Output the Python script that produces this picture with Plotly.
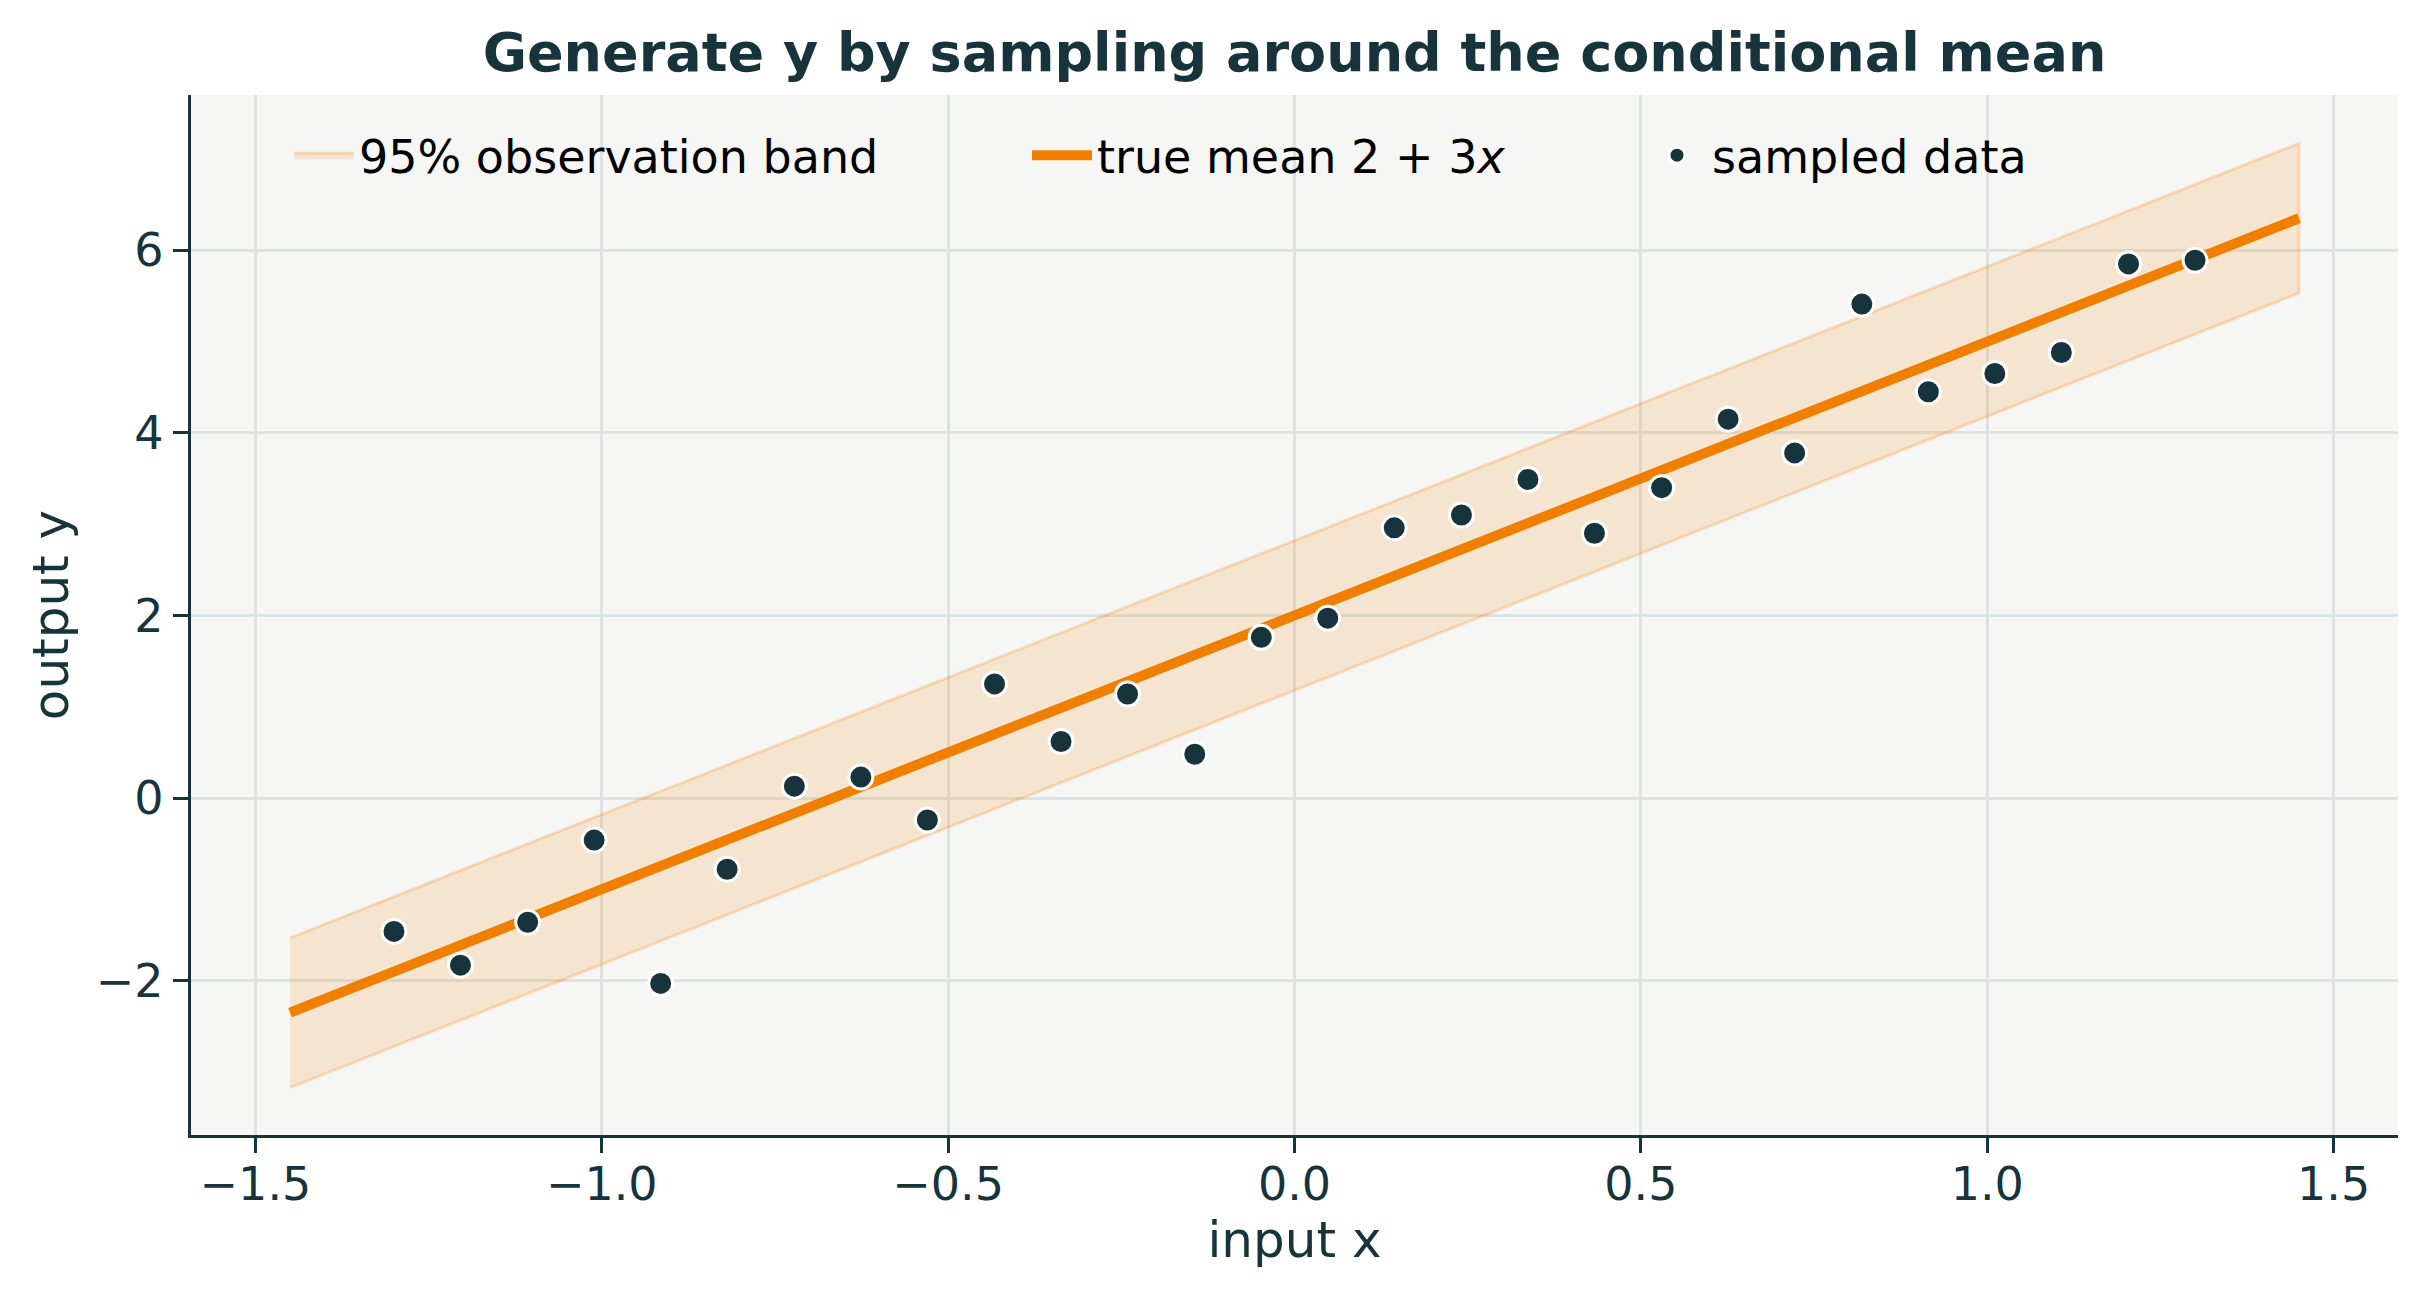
import plotly.graph_objects as go

# sampled points
x_data = [-1.300, -1.204, -1.107, -1.011, -0.915, -0.819, -0.722, -0.626, -0.530,
          -0.433, -0.337, -0.241, -0.144, -0.048, 0.048, 0.144, 0.241, 0.337,
          0.433, 0.530, 0.626, 0.722, 0.819, 0.915, 1.011, 1.107, 1.204, 1.300]
y_data = [-1.46, -1.83, -1.36, -0.46, -2.03, -0.78, 0.13, 0.23, -0.24,
          1.25, 0.62, 1.14, 0.48, 1.76, 1.97, 2.96, 3.10, 3.49,
          2.90, 3.40, 4.15, 3.78, 5.41, 4.45, 4.65, 4.88, 5.85, 5.89]

# true mean line and 95% band edges
x_line = [-1.45, 1.45]
y_mean = [-2.35, 6.35]
y_upper = [-1.53, 7.17]
y_lower = [-3.17, 5.53]

# colours
ink = "#17333b"
orange = "#f07f00"
grid_col = "#dde2e2"
font_fam = "DejaVu Sans"

fig = go.Figure()

# band as closed polygon
fig.add_trace(go.Scatter(
    x=x_line + x_line[::-1], y=y_upper + y_lower[::-1],
    fill="toself", fillcolor="rgba(240,127,0,0.15)",
    line=dict(color="rgba(240,127,0,0.22)", width=3),
    mode="lines", name="95% observation band", legend="legend",
    hoverinfo="skip"))

fig.add_trace(go.Scatter(
    x=x_line, y=y_mean, mode="lines", name="true mean 2 + 3<i>x</i>",
    line=dict(color=orange, width=10), legend="legend2"))

fig.add_trace(go.Scatter(
    x=x_data, y=y_data, mode="markers", name="sampled data",
    marker=dict(color=ink, size=24, line=dict(color="white", width=3)),
    legend="legend3"))

# page body adds an 8px margin, so the figure is shrunk by that much
W, H = 2420, 1295
ml, mr, mt, mb = 183, 30, 87, 168
pw = W - ml - mr

def lx(px):
    # screen px -> plot fraction
    return (px - 191) / pw

leg_common = dict(orientation="h", bgcolor="rgba(0,0,0,0)", borderwidth=0,
                  font=dict(family=font_fam, size=46, color="black"),
                  xanchor="left", yanchor="middle", y=0.942, itemwidth=60)

fig.update_layout(
    width=W, height=H,
    margin=dict(l=ml, r=mr, t=mt, b=mb),
    paper_bgcolor="white", plot_bgcolor="#f6f6f4",
    font=dict(family=font_fam, color=ink, size=46),
    title=dict(text="<b>Generate y by sampling around the conditional mean</b>",
               x=0.5, xref="paper", y=1 - 44 / H, yref="container",
               xanchor="center", yanchor="middle",
               font=dict(family=font_fam, size=54, color=ink)),
    legend=dict(x=lx(289), **leg_common),
    legend2=dict(x=lx(1027), **leg_common),
    legend3=dict(x=lx(1642), **leg_common),
    showlegend=True,
)

fig.update_xaxes(
    range=[-1.593, 1.593], dtick=0.5, tick0=0, tickformat=".1f",
    showgrid=True, gridcolor=grid_col, gridwidth=3, zeroline=False,
    showline=True, linecolor=ink, linewidth=3.3, mirror=False,
    ticks="outside", ticklen=15, tickwidth=3.3, tickcolor=ink,
    ticklabelstandoff=-8,
    tickfont=dict(size=46, color=ink),
    title=dict(text="input x", font=dict(size=50, color=ink), standoff=6))

fig.update_yaxes(
    range=[-3.69, 7.70], dtick=2, tick0=0,
    showgrid=True, gridcolor=grid_col, gridwidth=3, zeroline=False,
    showline=True, linecolor=ink, linewidth=3.3, mirror=False,
    ticks="outside", ticklen=15, tickwidth=3.3, tickcolor=ink,
    tickfont=dict(size=46, color=ink),
    title=dict(text="output y", font=dict(size=50, color=ink), standoff=12))

fig.write_html("out.html")
